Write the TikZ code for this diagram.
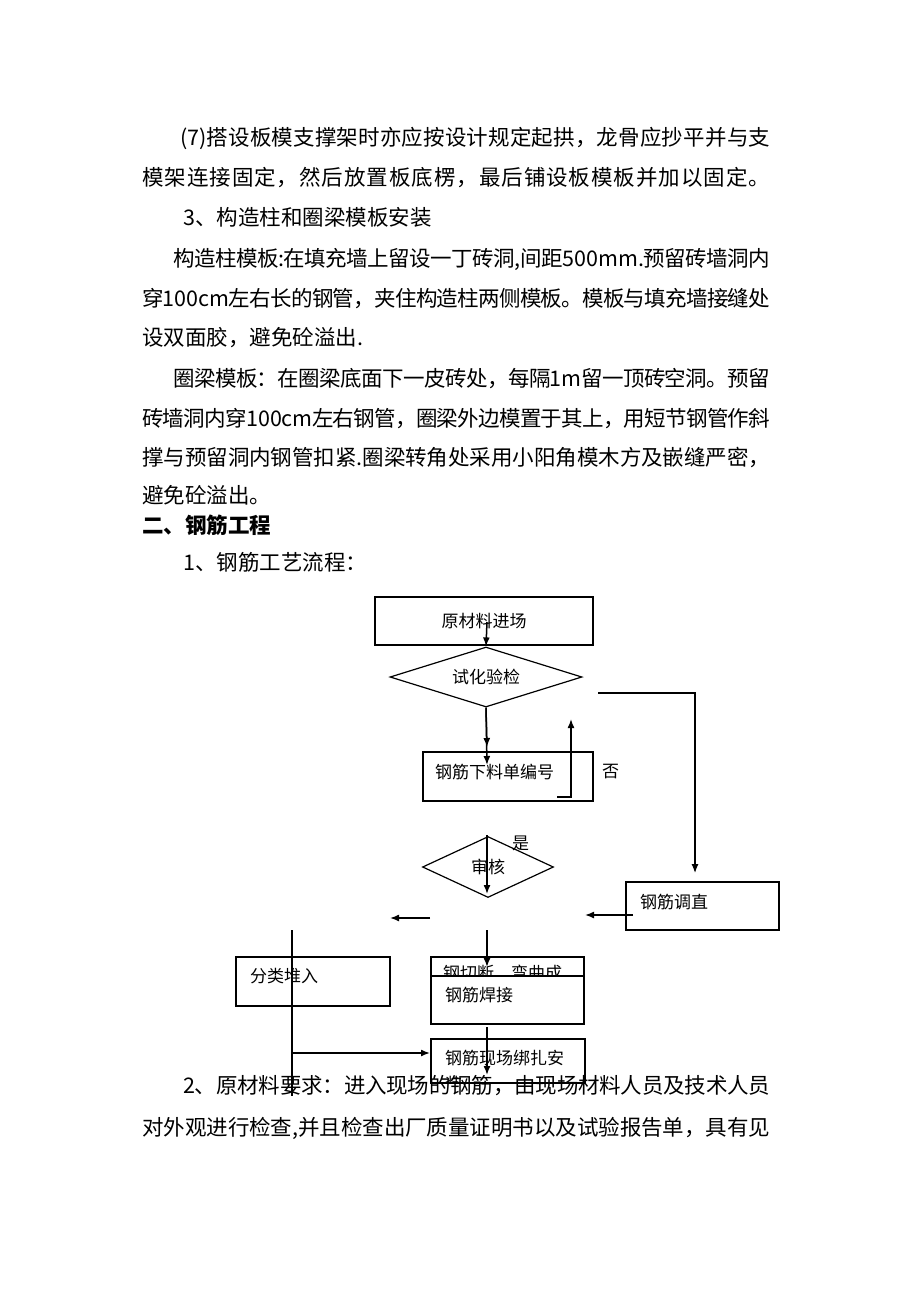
\documentclass[tikz,border=0pt]{standalone}
\usepackage{fontspec}
\setmainfont{Noto Sans CJK SC}
\usepackage{tikz}
\usetikzlibrary{calc,arrows.meta,shapes.geometric}
\makeatletter
\newcommand{\jl}[2]{\makebox[#1pt][s]{\@tfor\jc:=#2\do{\jc\hskip0pt plus 4pt minus 3pt}\unskip}}
\makeatother
\tikzset{
  para/.style={anchor=west, inner sep=0pt, font=\fontsize{21.5}{26}\selectfont, text height=18.9pt, text depth=2.6pt},
  box/.style={draw, line width=1.2pt, inner sep=0pt, font=\fontsize{17}{20}\selectfont},
  boxtext/.style={anchor=west, inner sep=0pt, font=\fontsize{17}{20}\selectfont},
  dia/.style={draw, diamond, line width=1.2pt, inner sep=0pt, shape aspect=3, font=\fontsize{17}{20}\selectfont},
  flow/.style={line width=1.5pt, -{Latex[length=9pt,width=7pt]}},
}

\begin{document}
\begin{tikzpicture}[x=1pt,y=-1pt]
\path[fill=white] (0,0) rectangle (920,1302);

\node[para] (l1) at (180,137) {\jl{590}{{(7)}搭设板模支撑架时亦应按设计规定起拱，龙骨应抄平并与支}};
\node[para] (l2) at (142,177) {\jl{628}{模架连接固定，然后放置板底楞，最后铺设板模板并加以固定。}};
\node[para] (l3) at (183,217) {3、构造柱和圈梁模板安装};
\node[para] (l4) at (173,258) {\jl{597}{构造柱模板{:}在填充墙上留设一丁砖洞{,}间距{500mm.}预留砖墙洞内}};
\node[para] (l5) at (142,298) {\jl{628}{穿{100cm}左右长的钢管，夹住构造柱两侧模板。模板与填充墙接缝处}};
\node[para] (l6) at (142,337) {设双面胶，避免砼溢出.};
\node[para] (l7) at (173,378) {\jl{597}{圈梁模板：在圈梁底面下一皮砖处，每隔{1m}留一顶砖空洞。预留}};
\node[para] (l8) at (142,418) {\jl{628}{砖墙洞内穿{100cm}左右钢管，圈梁外边模置于其上，用短节钢管作斜}};
\node[para] (l9) at (142,457) {\jl{628}{撑与预留洞内钢管扣紧{.}圈梁转角处采用小阳角模木方及嵌缝严密，}};
\node[para] (l10) at (142,495) {避免砼溢出。};
\node[para, font=\fontsize{21.5}{26}\selectfont\bfseries] (l11) at (142,525) {二、钢筋工程};
\node[para] (l12) at (183,562) {1、钢筋工艺流程：};
\node[para] (l13) at (183,1085) {\jl{587}{2、原材料要求：进入现场的钢筋，由现场材料人员及技术人员}};
\node[para] (l14) at (142,1127) {\jl{628}{对外观进行检查{,}并且检查出厂质量证明书以及试验报告单，具有见}};

\node[box, minimum width=218pt, minimum height=48pt] (raw) at (484,621) {原材料进场};
\node[dia, minimum width=192pt, minimum height=60pt] (chk) at (486,677) {试化验检};
\node[box, minimum width=170pt, minimum height=49pt] (list) at (508,776.5) {};
\node[boxtext] (listt) at (435,772) {钢筋下料单编号};
\node[boxtext] (no) at (602,772) {否};
\node[dia, minimum width=131pt, minimum height=61pt] (audit) at (488,867) {审核};
\node[boxtext] (yes) at (512,843) {是};
\node[box, minimum width=153pt, minimum height=48pt] (strt) at (702.5,906) {};
\node[boxtext] (strtt) at (640,902) {钢筋调直};
\node[box, minimum width=154pt, minimum height=49pt] (sort) at (313,981.5) {};
\node[boxtext] (sortt) at (250,976) {分类堆入};
\node[box, minimum width=153pt, minimum height=49pt] (cut) at (507.5,981.5) {};
\node[boxtext] (cutt) at (443,973) {钢切断、弯曲成};
\node[box, fill=white, minimum width=153pt, minimum height=48pt] (weld) at (507.5,1000) {};
\node[boxtext] (weldt) at (445,995) {钢筋焊接};
\node[box, minimum width=154pt, minimum height=44pt] (tie) at (508,1061) {};
\node[boxtext] (tiet) at (445,1058) {钢筋现场绑扎安};
\begin{scope}
\clip (tie.north west) rectangle (tie.south east);
\node[boxtext] (tiet2) at (445,1084) {装};
\end{scope}

\coordinate (c1) at (487,622);
\coordinate (c2) at (487,747);
\coordinate (c3) at (487,765);
\coordinate (r1) at (557,797);
\coordinate (r2) at (571,797);
\coordinate (r3) at (571,719);
\coordinate (s1) at (598,693);
\coordinate (s2) at (695,693);
\coordinate (s3) at (695,873);
\coordinate (d1) at (633,915);
\coordinate (d2) at (585,915);
\coordinate (e1) at (487,835);
\coordinate (e2) at (487,894);
\coordinate (f1) at (430,918);
\coordinate (f2) at (390,918);
\coordinate (g1) at (487,930);
\coordinate (g2) at (487,967);
\coordinate (h1) at (292,930);
\coordinate (h2) at (292,1096);
\coordinate (h3) at (292,1053);
\coordinate (h4) at (430,1053);
\coordinate (k1) at (487,1027);
\coordinate (k2) at (487,1075);

\draw[flow] (c1) -- (chk.north);
\draw[flow] (chk.south) -- (c2);
\draw[flow] (chk.south) -- (c3);
\draw[flow] (r1) -- (r2) -- (r3);
\draw[flow, line width=1.2pt] (s1) -- (s2) -- (s3);
\draw[flow] (d1) -- (d2);
\draw[flow] (e1) -- (e2);
\draw[flow] (f1) -- (f2);
\draw[flow] (g1) -- (g2);
\draw[line width=1.2pt] (h1) -- (h2);
\draw[flow] (h3) -- (h4);
\draw[flow] (k1) -- (k2);
\end{tikzpicture}
\end{document}
